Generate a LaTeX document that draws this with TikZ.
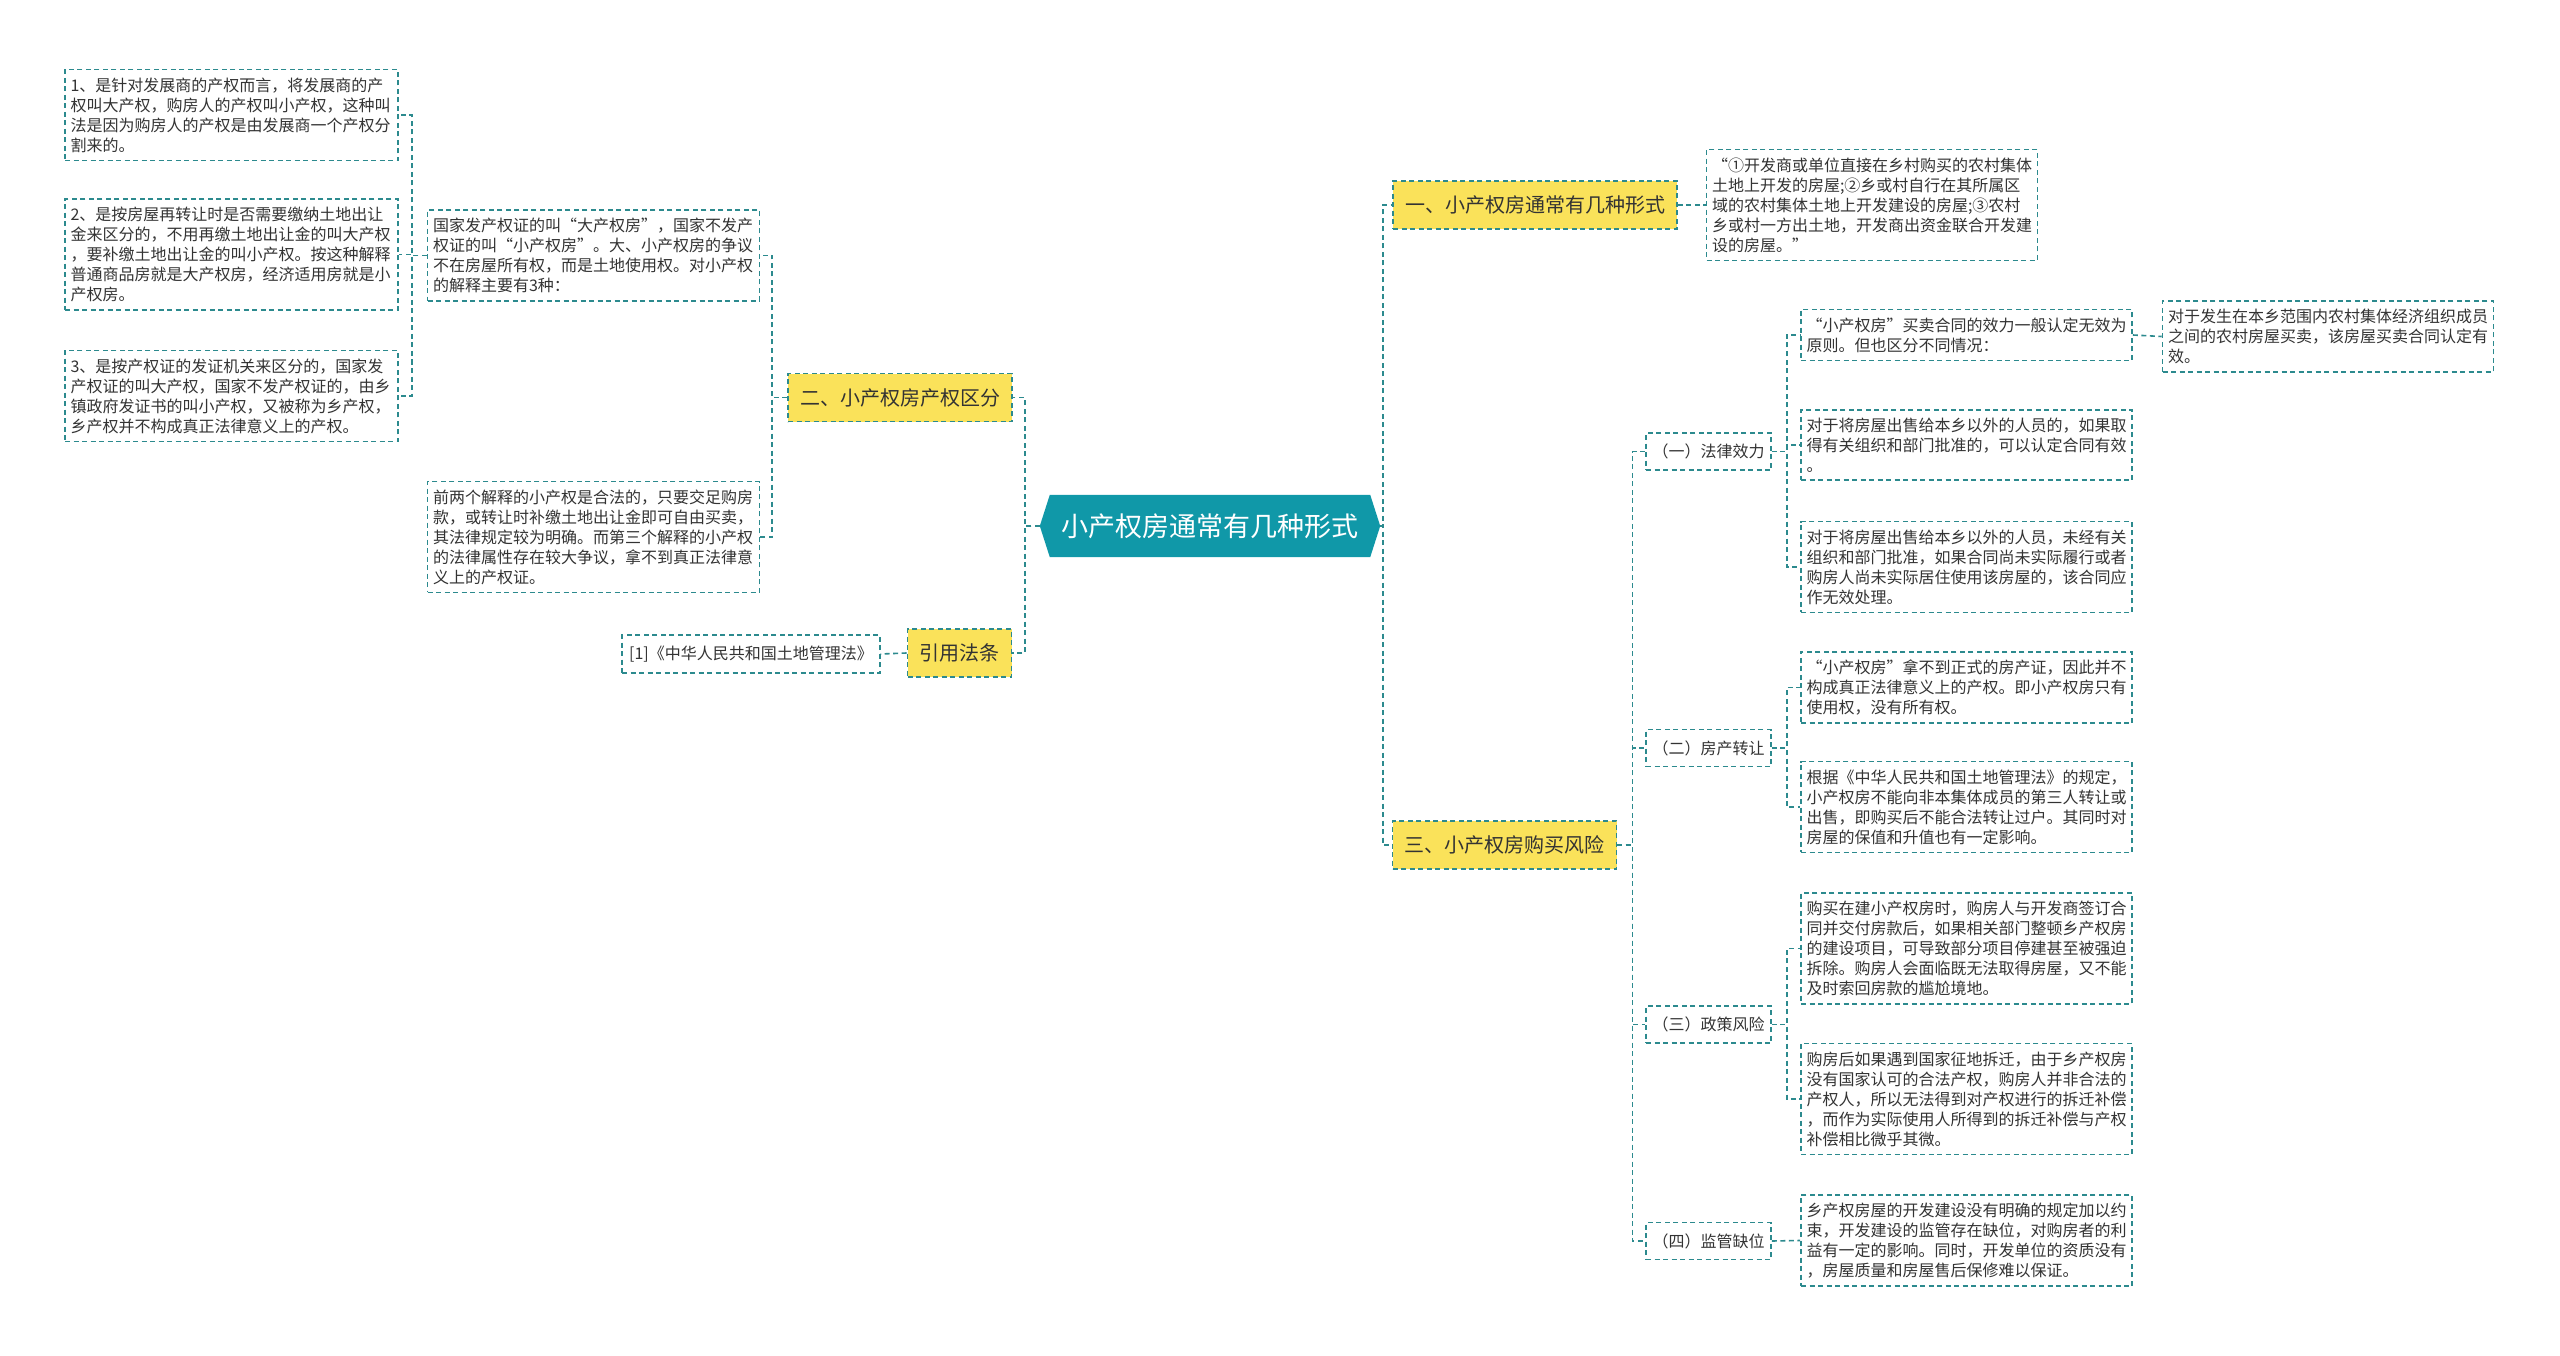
\documentclass[tikz,border=0pt]{standalone}
\usepackage{fontspec}
\setmainfont{Noto Sans CJK SC}
\definecolor{rootC}{RGB}{16,152,168}
\definecolor{lineC}{RGB}{44,138,142}
\definecolor{yelC}{RGB}{250,226,90}
\definecolor{txtC}{RGB}{51,51,51}
\pgfdeclarelayer{bg}
\pgfsetlayers{bg,main}
\begin{document}
\begin{tikzpicture}[x=1pt,y=-1pt,
  dsh/.style={draw=lineC, line width=1.6pt, dash pattern=on 5pt off 3.5pt},
  conn/.style={dsh},
  leaf/.style={dsh, fill=white, text=txtC, font=\fontsize{16}{20}\selectfont, align=left, text width=320pt, inner xsep=5.5pt, inner ysep=8pt},
  yelbox/.style={dsh, fill=yelC, text=txtC, font=\fontsize{20}{24}\selectfont, inner xsep=12pt, inner ysep=0pt, minimum height=48pt},
  midbox/.style={dsh, fill=white, text=txtC, font=\fontsize{16}{20}\selectfont, inner sep=0pt, minimum width=125pt, minimum height=37pt},
  rootbox/.style={text=white, font=\fontsize{27}{31}\selectfont, inner sep=0pt, minimum width=340pt, minimum height=62pt}
]
\useasboundingbox (0,0) rectangle (2560,1356);

% root
\node[rootbox] (root) at (1210,526) {小产权房通常有几种形式};
\begin{pgfonlayer}{bg}
\fill[white] (0,0) rectangle (2560,1356);
\fill[rootC] (root.west) -- ([xshift=10pt]root.north west) -- ([xshift=-10pt]root.north east) -- (root.east) -- ([xshift=-10pt]root.south east) -- ([xshift=10pt]root.south west) -- cycle;
\end{pgfonlayer}

% left side
\node[yelbox] (two) at (900,397.5) {二、小产权房产权区分};
\node[yelbox] (cite) at (959.5,653) {引用法条};
\node[leaf, text width=321pt] (guojia) at (593.5,255.5) {国家发产权证的叫“大产权房”，国家不发产\\权证的叫“小产权房”。大、小产权房的争议\\不在房屋所有权，而是土地使用权。对小产权\\的解释主要有3种：};
\node[leaf, text width=321pt] (qianliang) at (593.5,537) {前两个解释的小产权是合法的，只要交足购房\\款，或转让时补缴土地出让金即可自由买卖，\\其法律规定较为明确。而第三个解释的小产权\\的法律属性存在较大争议，拿不到真正法律意\\义上的产权证。};
\node[leaf, text width=322pt] (b1) at (231.5,115) {1、是针对发展商的产权而言，将发展商的产\\权叫大产权，购房人的产权叫小产权，这种叫\\法是因为购房人的产权是由发展商一个产权分\\割来的。};
\node[leaf, text width=322pt] (b2) at (231.5,254.5) {2、是按房屋再转让时是否需要缴纳土地出让\\金来区分的，不用再缴土地出让金的叫大产权\\，要补缴土地出让金的叫小产权。按这种解释\\普通商品房就是大产权房，经济适用房就是小\\产权房。};
\node[leaf, text width=322pt] (b3) at (231.5,396) {3、是按产权证的发证机关来区分的，国家发\\产权证的叫大产权，国家不发产权证的，由乡\\镇政府发证书的叫小产权，又被称为乡产权，\\乡产权并不构成真正法律意义上的产权。};
\node[dsh, fill=white, text=txtC, font=\fontsize{16}{20}\selectfont, inner xsep=7pt, minimum height=38pt, minimum width=254pt] (law) at (751,654) {[1]《中华人民共和国土地管理法》};

% right side
\node[yelbox] (one) at (1535,205) {一、小产权房通常有几种形式};
\node[yelbox] (three) at (1504.5,845) {三、小产权房购买风险};
\node[leaf] (r1) at (1872,205) {“①开发商或单位直接在乡村购买的农村集体\\土地上开发的房屋;②乡或村自行在其所属区\\域的农村集体土地上开发建设的房屋;③农村\\乡或村一方出土地，开发商出资金联合开发建\\设的房屋。”};

\node[midbox] (m1) at (1708.5,451.5) {（一）法律效力};
\node[midbox] (m2) at (1708.5,748) {（二）房产转让};
\node[midbox] (m3) at (1708.5,1024.5) {（三）政策风险};
\node[midbox] (m4) at (1708.5,1241) {（四）监管缺位};

\node[leaf] (l1) at (1966.5,335) {“小产权房”买卖合同的效力一般认定无效为\\原则。但也区分不同情况：};
\node[leaf] (l1a) at (2328,336.5) {对于发生在本乡范围内农村集体经济组织成员\\之间的农村房屋买卖，该房屋买卖合同认定有\\效。};
\node[leaf] (l2) at (1966.5,445) {对于将房屋出售给本乡以外的人员的，如果取\\得有关组织和部门批准的，可以认定合同有效\\。};
\node[leaf] (l3) at (1966.5,567) {对于将房屋出售给本乡以外的人员，未经有关\\组织和部门批准，如果合同尚未实际履行或者\\购房人尚未实际居住使用该房屋的，该合同应\\作无效处理。};
\node[leaf] (f1) at (1966.5,687.5) {“小产权房”拿不到正式的房产证，因此并不\\构成真正法律意义上的产权。即小产权房只有\\使用权，没有所有权。};
\node[leaf] (f2) at (1966.5,807) {根据《中华人民共和国土地管理法》的规定，\\小产权房不能向非本集体成员的第三人转让或\\出售，即购买后不能合法转让过户。其同时对\\房屋的保值和升值也有一定影响。};
\node[leaf] (p1) at (1966.5,948.5) {购买在建小产权房时，购房人与开发商签订合\\同并交付房款后，如果相关部门整顿乡产权房\\的建设项目，可导致部分项目停建甚至被强迫\\拆除。购房人会面临既无法取得房屋，又不能\\及时索回房款的尴尬境地。};
\node[leaf] (p2) at (1966.5,1099) {购房后如果遇到国家征地拆迁，由于乡产权房\\没有国家认可的合法产权，购房人并非合法的\\产权人，所以无法得到对产权进行的拆迁补偿\\，而作为实际使用人所得到的拆迁补偿与产权\\补偿相比微乎其微。};
\node[leaf] (s1) at (1966.5,1240.5) {乡产权房屋的开发建设没有明确的规定加以约\\束，开发建设的监管存在缺位，对购房者的利\\益有一定的影响。同时，开发单位的资质没有\\，房屋质量和房屋售后保修难以保证。};

% connectors left
\draw[conn] (root.west) -- ++(-15,0) |- (two.east);
\draw[conn] (root.west) -- ++(-15,0) |- (cite.east);
\draw[conn] (two.west) -- ++(-15,0) |- (guojia.east);
\draw[conn] (two.west) -- ++(-15,0) |- (qianliang.east);
\draw[conn] (guojia.west) -- ++(-15,0) |- (b1.east);
\draw[conn] (guojia.west) -- ++(-15,0) |- (b2.east);
\draw[conn] (guojia.west) -- ++(-15,0) |- (b3.east);
\draw[conn] (cite.west) -- (law.east);

% connectors right
\draw[conn] (root.east) -- ++(3,0) |- (one.west);
\draw[conn] (root.east) -- ++(3,0) |- (three.west);
\draw[conn] (one.east) -- (r1.west);
\draw[conn] (three.east) -- ++(15,0) |- (m1.west);
\draw[conn] (three.east) -- ++(15,0) |- (m2.west);
\draw[conn] (three.east) -- ++(15,0) |- (m3.west);
\draw[conn] (three.east) -- ++(15,0) |- (m4.west);
\draw[conn] (m1.east) -- ++(15,0) |- (l1.west);
\draw[conn] (m1.east) -- ++(15,0) |- (l2.west);
\draw[conn] (m1.east) -- ++(15,0) |- (l3.west);
\draw[conn] (l1.east) -- (l1a.west);
\draw[conn] (m2.east) -- ++(15,0) |- (f1.west);
\draw[conn] (m2.east) -- ++(15,0) |- (f2.west);
\draw[conn] (m3.east) -- ++(15,0) |- (p1.west);
\draw[conn] (m3.east) -- ++(15,0) |- (p2.west);
\draw[conn] (m4.east) -- (s1.west);
\end{tikzpicture}
\end{document}
